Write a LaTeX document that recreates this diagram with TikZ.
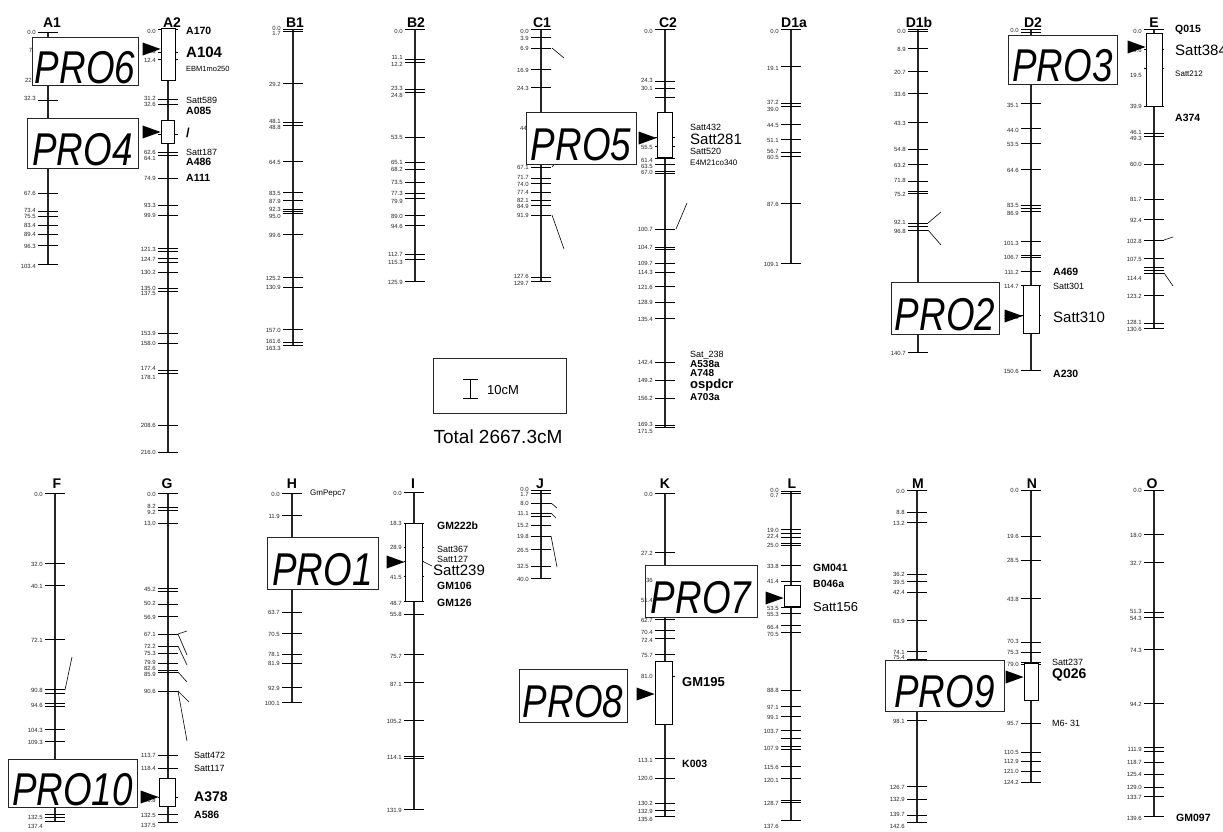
\documentclass[tikz,border=0pt]{standalone}
\usepackage{fontspec}
\setmainfont{Liberation Sans}
\newcommand\cz[1]{\scalebox{0.8}[1]{#1}}
\newcommand\chrom[6]{%
  \draw[chr] (#2,#3) coordinate (#1top) -- (#2,#4) coordinate (#1bot);
  \foreach \t in {#5} {\draw[tk] (#2-10,\t) -- (#2+10,\t);}
  \foreach \ly/\lt [count=\k] in {#6} {\node[tl] (#1l\k) at (#2-12,\ly) {\lt};}
}
\newcommand\cname[4]{\node[nm] (#1) at (#2,#3) {#4};}
\newcommand\tri[1]{\fill[tri] (#1) -- ++(-18,-6.5) -- ++(0,13) -- cycle;}
\begin{document}
\begin{tikzpicture}[x=1pt,y=-1pt,
  chr/.style={line width=1.1pt, draw=black!85},
  tk/.style={line width=0.9pt, draw=black},
  dg/.style={line width=0.6pt, draw=black},
  tl/.style={font=\fontsize{6}{6}\selectfont, anchor=east, inner sep=0pt, text=black!85},
  nm/.style={font=\fontsize{14}{14}\selectfont\bfseries, anchor=base, inner sep=0pt},
  mk/.style={anchor=west, inner sep=0pt},
  mb/.style={mk, font=\fontsize{10.5}{10.5}\selectfont\bfseries},
  mbs/.style={mk, font=\fontsize{10}{10}\selectfont\bfseries},
  ms/.style={mk, font=\fontsize{9}{9}\selectfont},
  mL/.style={mk, font=\fontsize{15}{15}\selectfont},
  probox/.style={draw=black!85, line width=0.8pt, fill=white, inner sep=0pt,
     text height=46pt, text depth=2pt, font=\fontsize{46}{46}\selectfont\itshape},
  qtl/.style={draw=black, line width=0.8pt, fill=white, inner sep=0pt},
  tri/.style={fill=black},
  frag/.style={font=\fontsize{6}{6}\selectfont, anchor=east, inner sep=0pt, text=black!85}]
\useasboundingbox (0,0) rectangle (1223,831);
\fill[white] (0,0) rectangle (1223,831);

% ---------- top row ----------
\chrom{A1}{48}{32}{264}{32,50,80,100,123,148,153,158,163,193,211,216,225,234,245,264}{32/0.0,98/32.3,193/67.6,210/73.4,216/75.5,225/83.4,234/89.4,246/96.3,266/103.4}
\chrom{A2}{168}{29}{452}{29,52,59,99,104,134,152,155,178,205,215,248,251,258,262,272,288,291,333,343,370,373,425,452}{31/0.0,51/10.3,60/12.4,98/31.2,104/32.6,152/62.6,158/64.1,178/74.9,205/93.3,215/99.9,249/121.3,259/124.7,272/130.2,288/135.0,293/137.5,333/153.9,343/158.0,368/177.4,377/178.1,425/208.6,452/216.0}
\chrom{B1}{293}{29}{345}{29,31,83,122,125,161,192,200,209,211,213,234,277,287,329,342,345}{28/0.0,33/1.7,84/29.2,121/48.1,127/48.8,162/64.5,193/83.5,201/87.9,209/92.3,216/95.0,235/99.6,278/125.2,287/130.9,330/157.0,341/161.6,348/163.3}
\chrom{B2}{415}{29}{281}{29,59,62,89,92,137,162,169,182,193,198,215,225,254,259,281}{31/0.0,57/11.1,64/12.2,88/23.3,95/24.8,137/53.5,162/65.1,169/68.2,182/73.5,193/77.3,201/79.9,216/89.0,226/94.6,254/112.7,262/115.3,282/125.9}
\chrom{C1}{541}{29}{281}{29,37,48,69,87,127,167,178,183,192,200,205,215,277,281}{31/0.0,38/3.9,48/6.9,70/16.9,88/24.3,167/67.1,177/71.7,184/74.0,192/77.4,200/82.1,206/84.9,215/91.9,276/127.6,283/129.7}
\chrom{C2}{665}{29}{427}{29,81,88,97,137,146,158,164,171,173,229,247,249,263,272,286,302,318,362,380,398,425,427}{31/0.0,80/24.3,88/30.1,147/55.5,160/61.4,166/63.5,172/67.0,229/100.7,247/104.7,263/109.7,272/114.3,287/121.6,302/128.9,319/135.4,362/142.4,380/149.2,398/156.2,424/169.3,431/171.5}
\chrom{D1a}{791}{29}{263}{29,66,103,106,124,139,152,156,203,263}{31/0.0,68/19.1,102/37.2,109/39.0,125/44.5,140/51.1,151/56.7,157/60.5,204/87.6,264/109.1}
\chrom{D1b}{918}{29}{352}{29,31,48,71,93,122,149,164,181,191,193,223,226,230,300,352}{31/0.0,49/8.9,72/20.7,94/33.6,123/43.3,149/54.8,165/63.2,180/71.8,194/75.2,222/92.1,231/96.8,353/140.7}
\chrom{D2}{1031}{29}{370}{29,32,103,128,143,169,205,208,211,241,255,257,271,285,315,370}{30/0.0,105/35.1,130/44.0,144/53.5,170/64.6,205/83.5,213/86.9,243/101.3,257/106.7,272/111.2,286/114.7,317/128.9,371/150.6}
\chrom{E}{1154}{29}{328}{29,49,68,106,133,136,164,199,219,240,258,267,270,273,295,323,328}{31/0.0,50/9.6,75/19.5,106/39.9,132/46.1,138/49.3,164/60.0,199/81.7,220/92.4,241/102.8,259/107.5,278/114.4,296/123.2,322/128.1,329/130.6}

% ---------- bottom row ----------
\chrom{F}{55}{493}{821}{493,563,585,639,689,693,703,706,729,741,770,790,814,817,821}{494/0.0,564/32.0,586/40.1,640/72.1,690/90.8,705/94.6,730/104.3,742/109.3,817/132.5,826/137.4}
\chrom{G}{168}{493}{822}{493,507,510,523,588,591,604,616,634,646,653,663,670,672,691,755,768,797,814,822}{494/0.0,506/8.2,512/9.2,523/13.0,589/45.2,603/50.2,617/56.9,634/67.1,646/72.2,653/75.3,662/79.9,668/82.6,674/85.9,691/90.6,755/113.7,768/118.4,800/125.8,815/132.5,825/137.5}
\chrom{H}{292}{493}{702}{493,515,550,573,612,633,654,663,687,702}{494/0.0,516/11.9,612/63.7,634/70.5,654/78.1,663/81.9,688/92.9,703/100.1}
\chrom{I}{414}{492}{809}{492,523,547,561,576,601,614,654,682,720,756,758,809}{493/0.0,523/18.3,547/28.9,577/41.5,603/48.7,614/55.8,656/75.7,684/87.1,721/105.2,757/114.1,810/131.9}
\chrom{J}{541}{490}{578}{490,493,503,513,516,525,536,549,566,578}{489/0.0,494/1.7,503/8.0,513/11.1,525/15.2,536/19.8,550/26.5,566/32.5,579/40.0}
\chrom{K}{665}{493}{816}{493,552,578,600,619,630,638,654,676,758,778,803,810,816}{494/0.0,553/27.2,620/62.7,632/70.4,640/72.4,655/75.7,676/81.0,760/113.1,778/120.0,803/130.2,811/132.9,819/135.6}
\chrom{L}{791}{491}{820}{491,493,529,533,537,543,545,565,581,607,613,625,632,690,706,716,730,738,746,749,766,778,800,802,820}{490/0.0,495/0.7,530/19.0,536/22.4,545/25.0,566/33.8,581/41.4,608/53.5,614/55.3,627/66.4,634/70.5,690/88.8,707/97.1,717/99.1,731/103.7,748/107.9,767/115.6,780/120.1,803/128.7,826/137.6}
\chrom{M}{917}{490}{822}{490,512,522,574,581,592,620,651,659,720,786,799,815,822}{491/0.0,512/8.8,523/13.2,574/36.2,582/39.5,592/42.4,621/63.9,652/74.1,657/75.4,721/98.1,787/126.7,799/132.9,814/139.7,826/142.6}
\chrom{N}{1031}{490}{782}{490,536,560,598,642,652,662,664,723,752,761,771,782}{490/0.0,536/19.6,560/28.5,599/43.8,641/70.3,652/75.3,664/79.0,723/95.7,752/110.5,761/112.9,771/121.0,782/124.2}
\chrom{O}{1154}{490}{816}{490,534,562,612,617,649,703,747,751,762,774,787,796,816}{490/0.0,535/18.0,563/32.7,611/51.3,618/54.3,650/74.3,704/94.2,749/111.9,762/118.7,774/125.4,787/129.0,797/133.7,818/139.6}

% chromosome names
\cname{nA1}{52}{27}{A1}   \cname{nA2}{172}{27}{A2}  \cname{nB1}{295}{27}{B1}
\cname{nB2}{416}{27}{B2}  \cname{nC1}{542}{27}{C1}  \cname{nC2}{668}{27}{C2}
\cname{nD1a}{794}{27}{D1a} \cname{nD1b}{919}{27}{D1b} \cname{nD2}{1033}{27}{D2}
\cname{nE}{1154}{27}{E}
\cname{nF}{57}{488}{F}    \cname{nG}{167}{488}{G}   \cname{nH}{292}{488}{H}
\cname{nI}{413}{488}{I}   \cname{nJ}{540}{488}{J}   \cname{nK}{665}{488}{K}
\cname{nL}{792}{488}{L}   \cname{nM}{918}{488}{M}   \cname{nN}{1032}{488}{N}
\cname{nO}{1152}{488}{O}

% label connector strokes
\draw[dg] (552,48) -- (564,58);
\draw[dg] (552,167) -- (559,159);
\draw[dg] (552,215) -- (564,249);
\draw[dg] (676,229) -- (687,203);
\draw[dg] (928,223) -- (941,212);
\draw[dg] (928,230) -- (941,245);
\draw[dg] (1164,240) -- (1173,237);
\draw[dg] (1164,273) -- (1173,286);
\draw[dg] (65,690) -- (72,657);
\draw[dg] (178,634) -- (187,631);
\draw[dg] (178,634) -- (187,655);
\draw[dg] (178,646) -- (187,665);
\draw[dg] (178,672) -- (187,682);
\draw[dg] (178,691) -- (189,702);
\draw[dg] (178,691) -- (187,741);
\draw[dg] (422,561) -- (432,566);
\draw[dg] (551,503) -- (557,508);
\draw[dg] (551,513) -- (556,518);
\draw[dg] (551,536) -- (557,567);

% QTL boxes
\node[qtl, minimum width=14pt, minimum height=52pt] (A2q1) at (168,54) {};
\node[qtl, minimum width=13pt, minimum height=23pt] (A2q2) at (167.5,131.5) {};
\node[qtl, minimum width=15pt, minimum height=45pt] (C2q) at (664.5,134.5) {};
\node[qtl, minimum width=16pt, minimum height=48pt] (D2q) at (1031,309) {};
\node[qtl, minimum width=16pt, minimum height=73pt] (Eq) at (1154,69.5) {};
\node[qtl, minimum width=16pt, minimum height=28pt] (Gq) at (167,792) {};
\node[qtl, minimum width=17pt, minimum height=78pt] (Iq) at (413.5,562) {};
\node[qtl, minimum width=17pt, minimum height=63pt] (Kq) at (663.5,692.5) {};
\node[qtl, minimum width=16pt, minimum height=21pt] (Lq) at (792,595.5) {};
\node[qtl, minimum width=14pt, minimum height=37pt] (Nq) at (1031,681.5) {};

% PRO boxes
\node[probox, minimum width=106pt, minimum height=48pt] (pro6) at (85,61) {\cz{PRO6}};
\node[probox, minimum width=111pt, minimum height=50pt] (pro4) at (82.5,143) {\cz{PRO4}};
\node[probox, minimum width=110pt, minimum height=52pt] (pro5) at (581,138) {\cz{PRO5}};
\node[probox, minimum width=109pt, minimum height=49pt] (pro3) at (1062.5,59.5) {\cz{PRO3}};
\node[probox, minimum width=108pt, minimum height=52pt] (pro2) at (945,308) {\cz{PRO2}};
\node[probox, minimum width=111pt, minimum height=52pt] (pro1) at (322.5,563) {\cz{PRO1}};
\node[probox, minimum width=112pt, minimum height=52pt] (pro7) at (701,591) {\cz{PRO7}};
\node[probox, minimum width=108pt, minimum height=53pt] (pro8) at (573,695.5) {\cz{PRO8}};
\node[probox, minimum width=119pt, minimum height=51pt] (pro9) at (944.5,685.5) {\cz{PRO9}};
\node[probox, minimum width=129pt, minimum height=48pt] (pro10) at (72.5,783) {\cz{PRO10}};

% label fragments peeking from under boxes
\node[frag] (fA1a) at (34,50) {7.};
\node[frag] (fA1b) at (32,80) {22};
\node[frag] (fC1) at (527,128) {44};
\node[frag] (fK1) at (653,580) {36};
\node[frag] (fK2) at (653,600) {51.4};

% arrowheads
\tri{A2q1.west |- 0,49}
\tri{A2q2.west |- 0,132}
\tri{C2q.west |- 0,138}
\tri{D2q.west |- 0,316}
\tri{Eq.west |- 0,47}
\tri{Gq.west |- 0,797}
\tri{Iq.west |- 0,562}
\tri{Kq.west |- 0,694}
\tri{Lq.west |- 0,598}
\tri{Nq.west |- 0,677}

% marker names
\node[mb] (mA170) at (186,31) {A170};
\node[mb, font=\fontsize{15}{15}\selectfont\bfseries] (mA104) at (186,52) {A104};
\node[mk, font=\fontsize{7.5}{7.5}\selectfont] (mEBM) at (186,69) {EBM1mo250};
\node[ms] (mS589) at (186,100) {Satt589};
\node[mb] (mA085) at (186,111) {A085};
\node[mb, font=\fontsize{13}{13}\selectfont\bfseries] (mslash) at (186,133) {/};
\node[ms] (mS187) at (186,152) {Satt187};
\node[mb] (mA486) at (186,162) {A486};
\node[mb] (mA111) at (186,178) {A111};

\node[ms] (mS432) at (690,127) {Satt432};
\node[mL] (mS281) at (690,139) {Satt281};
\node[ms] (mS520) at (690,151) {Satt520};
\node[mk, font=\fontsize{8}{8}\selectfont] (mE4M) at (690,163) {E4M21co340};
\node[ms] (mS238) at (690,355) {Sat\_238};
\node[mbs] (mA538) at (690,364) {A538a};
\node[mbs] (mA748) at (690,373) {A748};
\node[mb, font=\fontsize{13}{13}\selectfont\bfseries] (mosp) at (690,385.5) {ospdcr};
\node[mbs] (mA703) at (690,397.5) {A703a};

\node[mb] (mA469) at (1053,272) {A469};
\node[ms] (mS301) at (1053,286) {Satt301};
\node[mL] (mS310) at (1053,317) {Satt310};
\node[mb] (mA230) at (1053,374) {A230};

\node[mb] (mQ015) at (1175,30) {Q015};
\node[mL] (mS384) at (1175,50) {Satt384};
\node[mk, font=\fontsize{8}{8}\selectfont] (mS212) at (1175,74) {Satt212};
\node[mb] (mA374) at (1175,118) {A374};

\node[ms] (mS472) at (194,755) {Satt472};
\node[ms] (mS117) at (194,768) {Satt117};
\node[mb, font=\fontsize{14}{14}\selectfont\bfseries] (mA378) at (194,797) {A378};
\node[mb] (mA586) at (194,815) {A586};

\node[mk, font=\fontsize{8}{8}\selectfont] (mGmP) at (310,494) {GmPepc7};

\node[mb] (mGM222) at (437,526) {GM222b};
\node[ms] (mS367) at (437,549) {Satt367};
\node[ms] (mS127) at (437,559) {Satt127};
\node[mL] (mS239) at (433,570) {Satt239};
\node[mb] (mGM106) at (437,586) {GM106};
\node[mb] (mGM126) at (437,603) {GM126};

\node[mb, font=\fontsize{13}{13}\selectfont\bfseries] (mGM195) at (682,682) {GM195};
\node[mb] (mK003) at (682,764) {K003};

\node[mb] (mGM041) at (813,568) {GM041};
\node[mb] (mB046) at (813,584) {B046a};
\node[mk, font=\fontsize{13}{13}\selectfont] (mS156) at (813,607) {Satt156};

\node[ms] (mS237) at (1052,662) {Satt237};
\node[mb, font=\fontsize{14}{14}\selectfont\bfseries] (mQ026) at (1052,675) {Q026};
\node[ms] (mM631) at (1052,723) {M6- 31};

\node[mb] (mGM097) at (1176,818) {GM097};

% scale and total
\node[draw=black!85, line width=0.8pt, minimum width=133pt, minimum height=55pt, inner sep=0pt] (scl) at (499.5,385.5) {};
\coordinate (sb1) at (470,379);
\coordinate (sb2) at (470,398);
\draw[tk] (sb1) -- (sb2);
\draw[tk] ([xshift=-7pt]sb1) -- ([xshift=8pt]sb1);
\draw[tk] ([xshift=-7pt]sb2) -- ([xshift=8pt]sb2);
\node[anchor=west, inner sep=0pt, font=\fontsize{13}{13}\selectfont] (tencm) at (487,390) {10cM};
\node[inner sep=0pt, font=\fontsize{19}{19}\selectfont] (total) at (498,437) {Total 2667.3cM};
\end{tikzpicture}
\end{document}
